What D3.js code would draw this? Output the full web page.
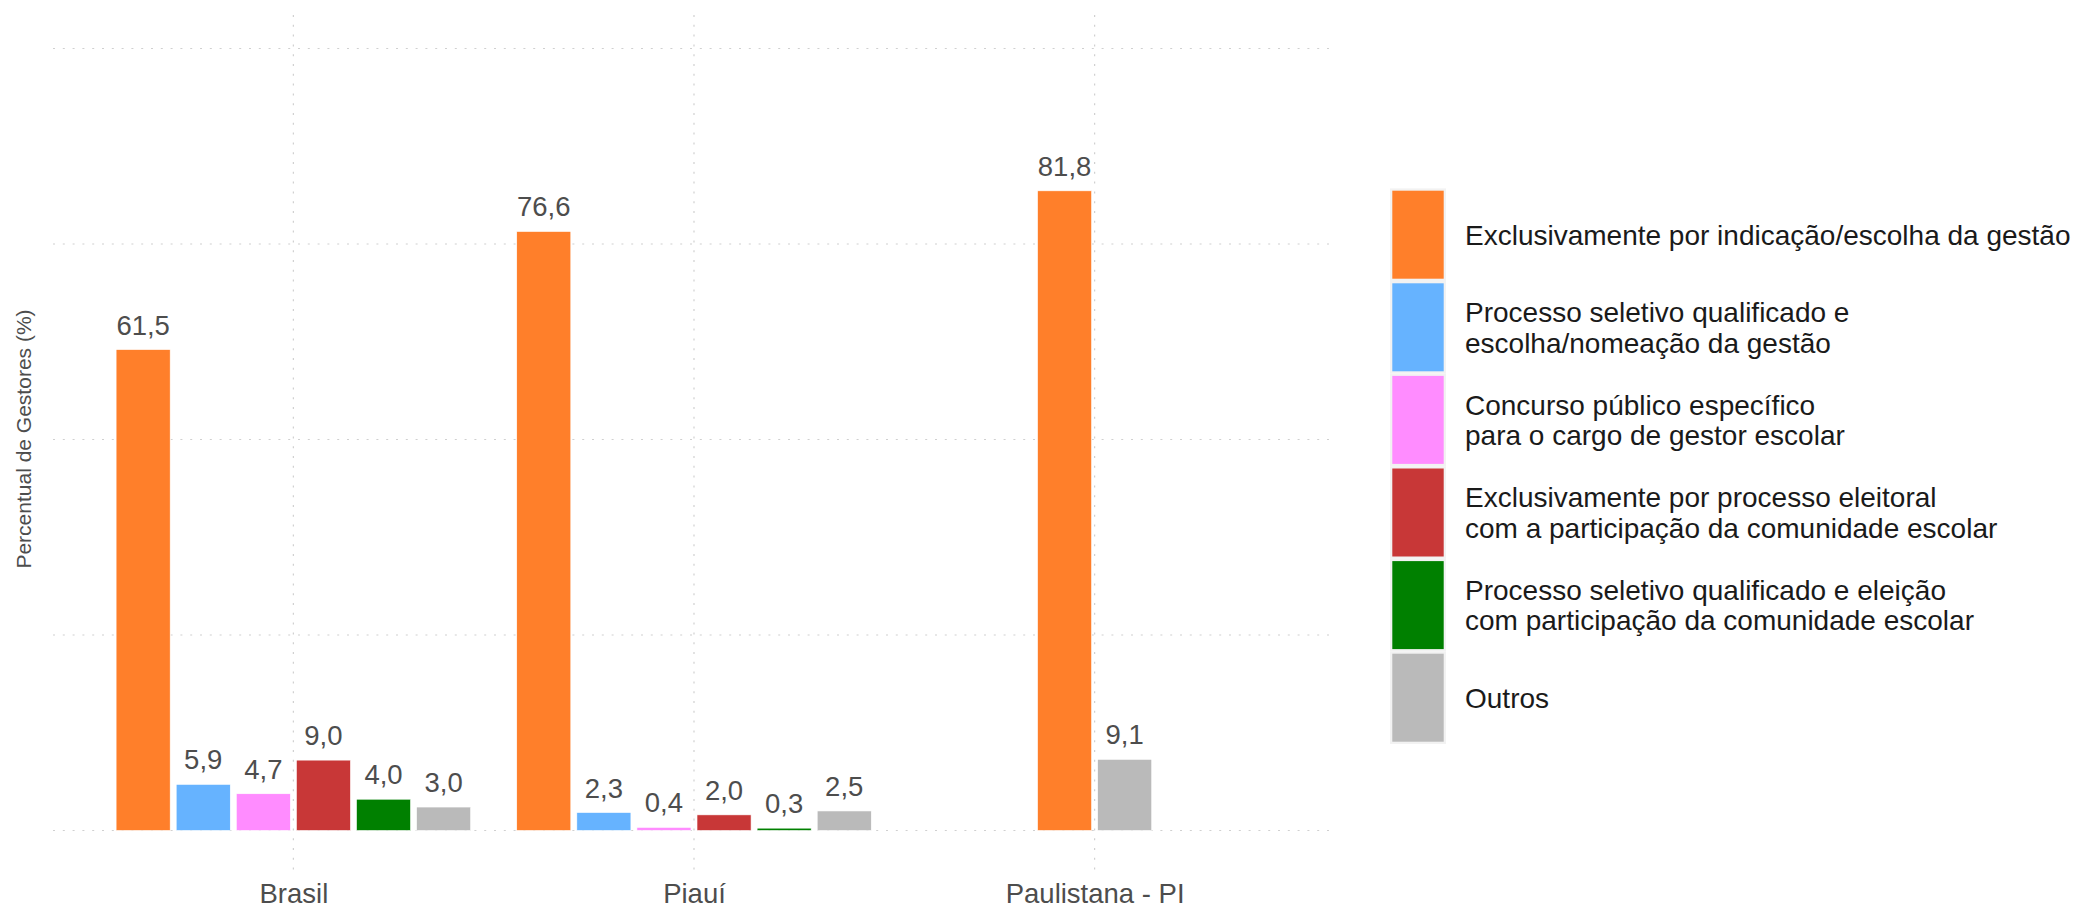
<!DOCTYPE html>
<html>
<head>
<meta charset="utf-8">
<script src="https://cdn.jsdelivr.net/npm/d3@7"></script>
<style>
  html, body { margin: 0; padding: 0; background: #fff; }
  svg { display: block; font-family: "Liberation Sans", Arial, Helvetica, sans-serif; }
</style>
</head>
<body>
<svg id="chart" width="2077" height="909"></svg>
<script>
// ---- data ----
const categories = ["Brasil", "Piauí", "Paulistana - PI"];
const seriesNames = [
  "Exclusivamente por indicação/escolha da gestão",
  "Processo seletivo qualificado e\nescolha/nomeação da gestão",
  "Concurso público específico\npara o cargo de gestor escolar",
  "Exclusivamente por processo eleitoral\ncom a participação da comunidade escolar",
  "Processo seletivo qualificado e eleição\ncom participação da comunidade escolar",
  "Outros"
];
const indicacao   = [61.5, 76.6, 81.8];
const psEscolha   = [5.9, 2.3, null];
const concurso    = [4.7, 0.4, null];
const eleitoral   = [9.0, 2.0, null];
const psEleicao   = [4.0, 0.3, null];
const outros      = [3.0, 2.5, 9.1];
const seriesValues = [indicacao, psEscolha, concurso, eleitoral, psEleicao, outros];
const seriesColors = ["#ff7f2a", "#66b3ff", "#ff8cff", "#c83737", "#008000", "#bababa"];
const yTicks = [0, 25, 50, 75, 100];
const yTitle = "Percentual de Gestores (%)";

// ---- layout ----
const svg = d3.select("#chart");
const panel = { left: 53, right: 1335, top: 15, bottom: 870 };

const x = d3.scalePoint().domain(categories).range([panel.left, panel.right]).padding(0.6);
const y = d3.scaleLinear().domain([0, 100]).range([830.5, 48.5]);
const color = d3.scaleOrdinal().domain(seriesNames).range(seriesColors);

const step = x.step();
const slot = 0.9 * step / seriesNames.length;
const barW = slot * 0.9;

// gridlines
const grid = svg.append("g");
grid.selectAll("line.h").data(yTicks).join("line")
  .attr("x1", panel.left).attr("x2", panel.right)
  .attr("y1", d => y(d)).attr("y2", d => y(d))
  .attr("stroke", "#d0d0d0").attr("stroke-width", 1.2).attr("stroke-dasharray", "2,7.8");
grid.selectAll("line.v").data(categories).join("line")
  .attr("x1", d => x(d)).attr("x2", d => x(d))
  .attr("y1", panel.top).attr("y2", panel.bottom)
  .attr("stroke", "#d0d0d0").attr("stroke-width", 1.2).attr("stroke-dasharray", "2,7.8");

// bars data (dodge, only present series, centered)
const bars = [];
categories.forEach((c, ci) => {
  const present = seriesNames.map((s, si) => ({ s, si, v: seriesValues[si][ci] })).filter(d => d.v !== null);
  present.forEach((d, k) => {
    bars.push({ cat: c, series: d.s, value: d.v, offset: (k - (present.length - 1) / 2) * slot });
  });
});

const fmt = v => d3.format(".1f")(v).replace(".", ",");

svg.append("g").selectAll("rect").data(bars).join("rect")
  .attr("x", d => x(d.cat) + d.offset - barW / 2)
  .attr("width", barW)
  .attr("y", d => y(d.value))
  .attr("height", d => y(0) - y(d.value))
  .attr("fill", d => color(d.series))
  .attr("stroke", "#ffffff").attr("stroke-width", 0.6);

svg.append("g").selectAll("text").data(bars).join("text")
  .attr("x", d => x(d.cat) + d.offset)
  .attr("y", d => y(d.value) - 15)
  .attr("text-anchor", "middle")
  .attr("font-size", 27.5)
  .attr("fill", "#4d4d4d")
  .text(d => fmt(d.value));

// x axis labels
const xAxis = d3.axisBottom(x).tickSize(0).tickPadding(0);
const xg = svg.append("g").attr("transform", "translate(0,903)").call(xAxis);
xg.select(".domain").remove();
xg.selectAll("text")
  .attr("dy", 0).attr("y", 0)
  .attr("font-size", 27.5)
  .attr("font-family", "'Liberation Sans', Arial, sans-serif")
  .attr("fill", "#4d4d4d");

// y title
svg.append("text")
  .attr("transform", "translate(30.5,439) rotate(-90)")
  .attr("text-anchor", "middle")
  .attr("font-size", 21)
  .attr("fill", "#4d4d4d")
  .text(yTitle);

// legend
const legTop = 188.4, pitch = 92.6, keyX = 1390, keyW = 56, inset = 2.3;
const lg = svg.append("g");
seriesNames.forEach((s, i) => {
  const top = legTop + i * pitch;
  lg.append("rect").attr("x", keyX).attr("y", top).attr("width", keyW).attr("height", pitch)
    .attr("fill", "#f2f2f2");
  lg.append("rect").attr("x", keyX + inset).attr("y", top + inset)
    .attr("width", keyW - 2 * inset).attr("height", pitch - 2 * inset)
    .attr("fill", color(s));
  const lines = s.split("\n");
  const center = top + pitch / 2;
  const t = lg.append("text").attr("font-size", 28).attr("fill", "#1a1a1a");
  lines.forEach((ln, k) => {
    t.append("tspan").attr("x", 1465)
      .attr("y", center + 10 + (k - (lines.length - 1) / 2) * 30.6)
      .text(ln);
  });
});
</script>
</body>
</html>
